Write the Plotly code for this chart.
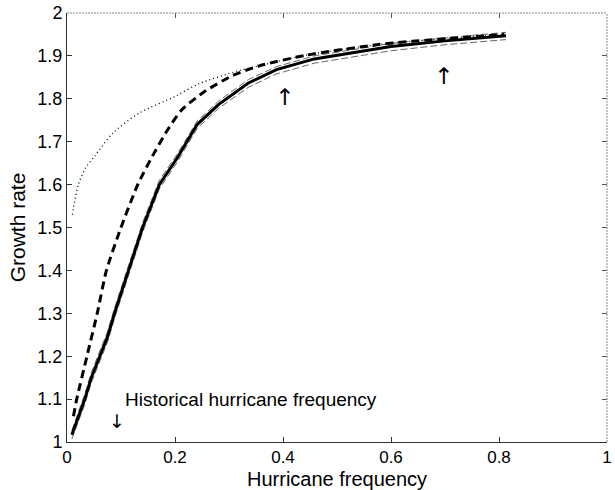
import plotly.graph_objects as go

# Mean growth rate (solid) and its confidence bands (thin dashed)
freq_mean = [0.009, 0.020, 0.033, 0.045, 0.061, 0.075, 0.088, 0.114, 0.140, 0.171,
             0.204, 0.241, 0.281, 0.336, 0.388, 0.458, 0.520, 0.600, 0.700, 0.760, 0.813]
growth_mean = [1.017, 1.055, 1.100, 1.150, 1.200, 1.245, 1.300, 1.400, 1.500, 1.600,
               1.662, 1.740, 1.787, 1.837, 1.868, 1.893, 1.906, 1.922, 1.935, 1.941, 1.947]
growth_upper = [1.027, 1.066, 1.112, 1.162, 1.212, 1.257, 1.312, 1.411, 1.511, 1.610,
                1.671, 1.748, 1.795, 1.845, 1.875, 1.900, 1.913, 1.929, 1.942, 1.948, 1.955]
growth_lower = [1.007, 1.044, 1.088, 1.138, 1.188, 1.233, 1.288, 1.389, 1.489, 1.590,
                1.652, 1.731, 1.778, 1.827, 1.858, 1.883, 1.896, 1.912, 1.926, 1.932, 1.938]

# Second model (thick dashed)
freq_dash = [0.012, 0.018, 0.037, 0.056, 0.073, 0.100, 0.131, 0.158, 0.185, 0.213,
             0.256, 0.305, 0.354, 0.440, 0.580, 0.700, 0.810]
growth_dash = [1.060, 1.100, 1.200, 1.300, 1.400, 1.500, 1.600, 1.666, 1.725, 1.775,
               1.818, 1.853, 1.876, 1.901, 1.927, 1.940, 1.950]

# Third model (dotted)
freq_dot = [0.010, 0.021, 0.035, 0.051, 0.085, 0.134, 0.201, 0.244, 0.317, 0.360,
            0.440, 0.580, 0.700, 0.810]
growth_dot = [1.530, 1.600, 1.640, 1.666, 1.720, 1.767, 1.806, 1.835, 1.865, 1.878,
              1.901, 1.927, 1.940, 1.950]

x_ticks = [0, 0.2, 0.4, 0.6, 0.8, 1]
x_tick_labels = ["0", "0.2", "0.4", "0.6", "0.8", "1"]
y_ticks = [1, 1.1, 1.2, 1.3, 1.4, 1.5, 1.6, 1.7, 1.8, 1.9, 2]
y_tick_labels = ["1", "1.1", "1.2", "1.3", "1.4", "1.5", "1.6", "1.7", "1.8", "1.9", "2"]

FONT = "Liberation Sans, Arial, Helvetica, sans-serif"
ARROW_FONT = "DejaVu Sans"

fig = go.Figure()
fig.add_trace(go.Scatter(x=freq_dot, y=growth_dot, mode="lines",
                         line=dict(color="black", width=1.3, dash="1px,3px", shape="spline", smoothing=0.8),
                         showlegend=False, hoverinfo="skip"))
fig.add_trace(go.Scatter(x=freq_mean, y=growth_upper, mode="lines",
                         line=dict(color="#555555", width=0.9, dash="7px,3px"),
                         showlegend=False, hoverinfo="skip"))
fig.add_trace(go.Scatter(x=freq_mean, y=growth_lower, mode="lines",
                         line=dict(color="#555555", width=0.9, dash="7px,3px"),
                         showlegend=False, hoverinfo="skip"))
fig.add_trace(go.Scatter(x=freq_dash, y=growth_dash, mode="lines",
                         line=dict(color="black", width=3, dash="8px,5px", shape="spline", smoothing=0.6),
                         showlegend=False, hoverinfo="skip"))
fig.add_trace(go.Scatter(x=freq_mean, y=growth_mean, mode="lines",
                         line=dict(color="black", width=3),
                         showlegend=False, hoverinfo="skip"))
# invisible trace to carry mirrored top/right tick axes
fig.add_trace(go.Scatter(x=[0, 1], y=[1, 2], mode="lines", xaxis="x2", yaxis="y2",
                         line=dict(width=0, color="rgba(0,0,0,0)"),
                         showlegend=False, hoverinfo="skip"))

fig.update_layout(
    width=615, height=490,
    margin=dict(l=67, r=3, t=13, b=48),
    paper_bgcolor="white", plot_bgcolor="white",
    font=dict(family=FONT, color="black"),
    xaxis=dict(range=[0, 1], tickvals=x_ticks, ticktext=x_tick_labels,
               ticks="inside", ticklen=5, tickcolor="#333", showgrid=False, zeroline=False,
               showline=True, linecolor="#333", linewidth=1, ticklabeloverflow="allow",
               tickfont=dict(size=17, family=FONT)),
    yaxis=dict(range=[1, 2], tickvals=y_ticks, ticktext=y_tick_labels,
               ticks="inside", ticklen=5, tickcolor="#333", showgrid=False, zeroline=False,
               showline=True, linecolor="#333", linewidth=1, ticklabeloverflow="allow",
               tickfont=dict(size=18, family=FONT),
               title=dict(text="Growth rate", font=dict(size=21, family=FONT), standoff=6)),
    xaxis2=dict(range=[0, 1], overlaying="x", side="top", tickvals=x_ticks,
                showticklabels=False, ticks="inside", ticklen=5, tickcolor="#555",
                showgrid=False, zeroline=False, showline=False),
    yaxis2=dict(range=[1, 2], overlaying="y", side="right", tickvals=y_ticks,
                showticklabels=False, ticks="inside", ticklen=5, tickcolor="#555",
                showgrid=False, zeroline=False, showline=False),
)

# x-axis title
fig.add_annotation(x=0.5, y=0, xref="paper", yref="paper", yshift=-25,
                   text="Hurricane frequency", showarrow=False,
                   xanchor="center", yanchor="top", borderpad=0,
                   font=dict(size=20, family=FONT, color="black"))

# dotted gray top and right borders
fig.add_shape(type="line", xref="paper", yref="paper", x0=0, x1=1, y0=1, y1=1,
              line=dict(color="#888", width=1, dash="2px,1px"))
fig.add_shape(type="line", xref="paper", yref="paper", x0=1, x1=1, y0=0, y1=1,
              line=dict(color="#888", width=1, dash="2px,1px"))

fig.add_annotation(x=0.103, y=1.099, xref="x", yref="y", text="Historical hurricane frequency",
                   showarrow=False, xanchor="left", yanchor="middle",
                   font=dict(size=19, family=FONT, color="black"))
fig.add_annotation(x=0.092, y=1.048, xref="x", yref="y", text="↓",
                   showarrow=False, xanchor="center", yanchor="middle",
                   font=dict(size=19, family=ARROW_FONT, color="black"))
fig.add_annotation(x=0.403, y=1.805, xref="x", yref="y", text="↑",
                   showarrow=False, xanchor="center", yanchor="middle",
                   font=dict(size=23, family=ARROW_FONT, color="black"))
fig.add_annotation(x=0.697, y=1.852, xref="x", yref="y", text="↑",
                   showarrow=False, xanchor="center", yanchor="middle",
                   font=dict(size=23, family=ARROW_FONT, color="black"))

fig.write_html("out.html")
